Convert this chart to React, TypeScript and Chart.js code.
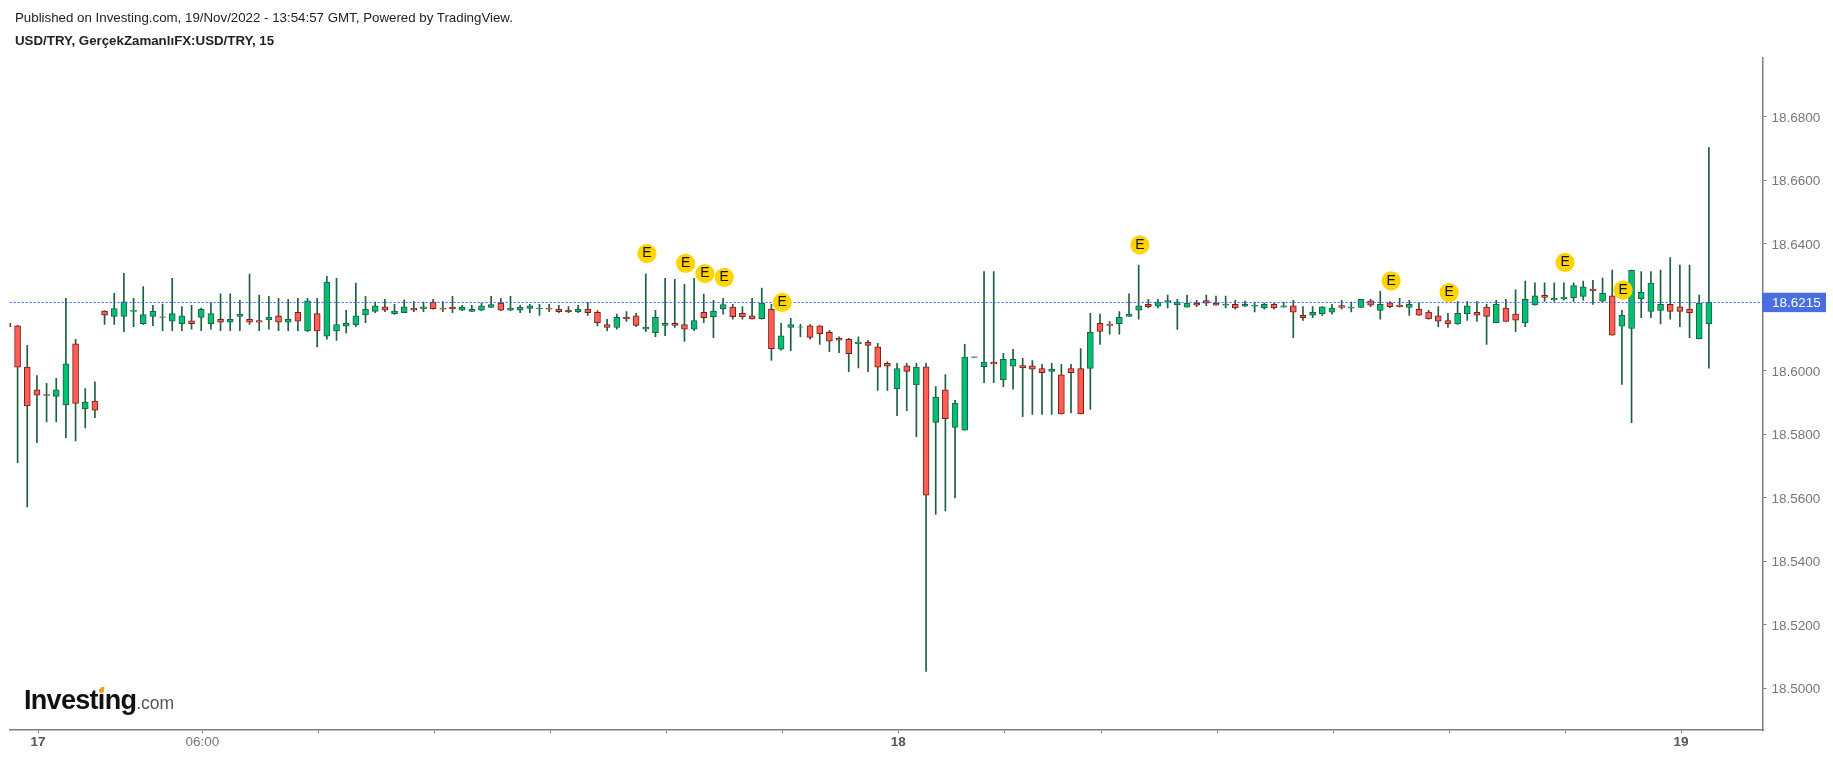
import React, { useEffect, useRef } from "react";
import { Chart, registerables } from "chart.js";

Chart.register(...registerables);

const publishedText = "Published on Investing.com, 19/Nov/2022 - 13:54:57 GMT, Powered by TradingView.";
const symbolText = "USD/TRY, GerçekZamanlıFX:USD/TRY, 15";
const lastPrice = 18.6215;

const opens = [18.6149,18.6141,18.6011,18.5940,18.5925,18.5919,18.5892,18.6085,18.5880,18.5904,18.6188,18.6171,18.6171,18.6187,18.6148,18.6171,18.6168,18.6156,18.6148,18.6157,18.6168,18.6148,18.6162,18.6153,18.6171,18.6162,18.6158,18.6160,18.6173,18.6153,18.6184,18.6125,18.6180,18.6109,18.6125,18.6140,18.6145,18.6176,18.6187,18.6201,18.6180,
18.6183,18.6197,18.6195,18.6216,18.6197,18.6200,18.6191,18.6187,18.6191,18.6199,18.6213,18.6191,18.6191,18.6196,18.6195,18.6197,18.6194,18.6190,18.6186,18.6194,18.6184,18.6145,18.6136,18.6169,18.6173,18.6131,18.6120,18.6143,18.6149,18.6145,18.6131,18.6184,18.6170,18.6195,18.6200,18.6181,18.6173,18.6164,18.6193,18.6068,18.6136,18.6137,
18.6141,18.6141,18.6121,18.6102,18.6099,18.6085,18.6089,18.6075,18.6023,18.5943,18.6015,18.5955,18.6012,18.5837,18.5940,18.5821,18.5813,18.6042,18.6013,18.6027,18.5971,18.6014,18.6016,18.6015,18.6007,18.5998,18.5987,18.6007,18.6007,18.6007,18.6149,18.6146,18.6148,18.6171,18.6191,18.6209,18.6203,18.6216,18.6207,18.6200,18.6213,18.6221,18.6213,18.6206,18.6209,18.6203,18.6203,18.6198,18.6209,18.6200,18.6204,18.6174,18.6175,18.6180,18.6184,18.6205,18.6197,18.6199,18.6220,18.6190,18.6214,18.6206,18.6199,18.6193,18.6185,18.6173,18.6158,18.6147,18.6180,18.6184,18.6200,18.6151,18.6197,18.6178,18.6151,18.6207,18.6237,18.6223,18.6227,18.6230,18.6234,18.6257,18.6219,18.6236,18.6140,18.6133,18.6227,18.6187,18.6190,18.6209,18.6201,18.6194,18.6100,18.6148];
const highs = [18.6149,18.6143,18.6080,18.5985,18.5960,18.5976,18.6228,18.6099,18.5944,18.5965,18.6189,18.6244,18.6307,18.6228,18.6265,18.6206,18.6210,18.6291,18.6202,18.6206,18.6197,18.6215,18.6242,18.6242,18.6222,18.6304,18.6238,18.6234,18.6228,18.6225,18.6228,18.6228,18.6228,18.6297,18.6291,18.6190,18.6276,18.6234,18.6216,18.6225,18.6209,
18.6223,18.6218,18.6216,18.6225,18.6218,18.6234,18.6206,18.6206,18.6213,18.6234,18.6228,18.6234,18.6206,18.6209,18.6209,18.6209,18.6206,18.6202,18.6206,18.6215,18.6189,18.6162,18.6178,18.6186,18.6181,18.6305,18.6190,18.6291,18.6288,18.6272,18.6291,18.6241,18.6222,18.6228,18.6209,18.6202,18.6228,18.6260,18.6209,18.6149,18.6165,18.6146,
18.6145,18.6142,18.6127,18.6107,18.6102,18.6107,18.6096,18.6086,18.6028,18.6023,18.6023,18.6023,18.6023,18.5950,18.5988,18.5907,18.6083,18.6044,18.6312,18.6312,18.6055,18.6067,18.6039,18.6032,18.6020,18.6023,18.6020,18.6020,18.6070,18.6181,18.6178,18.6155,18.6186,18.6242,18.6332,18.6225,18.6225,18.6238,18.6225,18.6238,18.6222,18.6238,18.6235,18.6235,18.6222,18.6219,18.6216,18.6213,18.6213,18.6216,18.6222,18.6202,18.6202,18.6202,18.6209,18.6222,18.6216,18.6225,18.6225,18.6250,18.6218,18.6228,18.6222,18.6214,18.6190,18.6202,18.6181,18.6218,18.6218,18.6218,18.6209,18.6222,18.6225,18.6255,18.6282,18.6277,18.6277,18.6277,18.6277,18.6277,18.6282,18.6285,18.6292,18.6317,18.6190,18.6317,18.6312,18.6312,18.6317,18.6356,18.6333,18.6333,18.6238,18.6703];
const lows = [18.6139,18.5710,18.5571,18.5773,18.5839,18.5839,18.5789,18.5779,18.5820,18.5852,18.6146,18.6146,18.6123,18.6139,18.6146,18.6142,18.6126,18.6126,18.6126,18.6131,18.6126,18.6131,18.6126,18.6126,18.6126,18.6146,18.6126,18.6131,18.6126,18.6126,18.6126,18.6123,18.6075,18.6099,18.6095,18.6119,18.6139,18.6151,18.6183,18.6186,18.6177,
18.6183,18.6186,18.6186,18.6194,18.6186,18.6183,18.6189,18.6186,18.6189,18.6199,18.6189,18.6189,18.6183,18.6183,18.6174,18.6186,18.6183,18.6183,18.6183,18.6174,18.6141,18.6126,18.6131,18.6155,18.6139,18.6123,18.6107,18.6110,18.6136,18.6092,18.6126,18.6151,18.6104,18.6178,18.6162,18.6162,18.6162,18.6162,18.6032,18.6065,18.6063,18.6107,
18.6099,18.6083,18.6060,18.6057,18.5997,18.6009,18.5997,18.5938,18.5938,18.5858,18.5874,18.5792,18.5053,18.5547,18.5558,18.5599,18.5813,18.6042,18.5962,18.5962,18.5950,18.5942,18.5855,18.5862,18.5862,18.5862,18.5864,18.5867,18.5864,18.5878,18.6083,18.6115,18.6115,18.6171,18.6162,18.6198,18.6198,18.6198,18.6130,18.6200,18.6202,18.6205,18.6206,18.6198,18.6194,18.6202,18.6185,18.6194,18.6194,18.6200,18.6104,18.6158,18.6167,18.6174,18.6178,18.6194,18.6185,18.6199,18.6202,18.6162,18.6198,18.6200,18.6174,18.6174,18.6162,18.6139,18.6136,18.6146,18.6158,18.6155,18.6083,18.6151,18.6155,18.6123,18.6139,18.6206,18.6218,18.6218,18.6222,18.6218,18.6222,18.6209,18.6217,18.6112,18.5957,18.5836,18.6167,18.6167,18.6147,18.6162,18.6139,18.6104,18.6100,18.6008];
const closes = [18.6139,18.6011,18.5889,18.5923,18.5922,18.5940,18.6022,18.5897,18.5901,18.5876,18.6175,18.6196,18.6217,18.6190,18.6177,18.6187,18.6170,18.6180,18.6173,18.6148,18.6193,18.6180,18.6153,18.6162,18.6178,18.6153,18.6153,18.6168,18.6153,18.6162,18.6156,18.6220,18.6125,18.6279,18.6145,18.6149,18.6173,18.6193,18.6204,18.6191,18.6188,
18.6201,18.6191,18.6201,18.6195,18.6194,18.6195,18.6200,18.6193,18.6204,18.6208,18.6191,18.6197,18.6200,18.6204,18.6197,18.6194,18.6186,18.6186,18.6194,18.6183,18.6151,18.6136,18.6168,18.6163,18.6143,18.6137,18.6168,18.6149,18.6143,18.6131,18.6158,18.6167,18.6188,18.6208,18.6170,18.6170,18.6163,18.6213,18.6069,18.6110,18.6145,18.6138,
18.6105,18.6117,18.6093,18.6096,18.6054,18.6090,18.6080,18.6011,18.6014,18.6007,18.5998,18.6011,18.5608,18.5917,18.5849,18.5897,18.6043,18.6044,18.6027,18.6021,18.6036,18.6036,18.6009,18.6005,18.5994,18.6004,18.5864,18.5994,18.5864,18.6121,18.6124,18.6143,18.6168,18.6178,18.6204,18.6202,18.6216,18.6221,18.6216,18.6213,18.6206,18.6213,18.6206,18.6209,18.6198,18.6209,18.6206,18.6209,18.6198,18.6204,18.6184,18.6167,18.6184,18.6201,18.6197,18.6199,18.6200,18.6225,18.6206,18.6209,18.6202,18.6202,18.6209,18.6175,18.6163,18.6156,18.6147,18.6181,18.6204,18.6175,18.6171,18.6209,18.6155,18.6159,18.6225,18.6236,18.6231,18.6228,18.6232,18.6268,18.6264,18.6252,18.6244,18.6112,18.6174,18.6316,18.6247,18.6276,18.6209,18.6187,18.6187,18.6183,18.6213,18.6215];

const timeTickIndices = [3,20,32,44,56,68,80,92,103,113,125,137,149,161,173];
const timeTickLabels = ["17","06:00","","","","","","18","","","","","","","19"];
const boldTimeLabels = ["17","18","19"];
const priceTicks = [18.50,18.52,18.54,18.56,18.58,18.60,18.64,18.66,18.68];

const earningsIndices = [66,70,72,74,80,117,143,149,161,167];
const earningsValues = [18.6369,18.6338,18.6306,18.6294,18.6215,18.6396,18.6283,18.6246,18.6341,18.6254];

const indices = opens.map((_, i) => i);
const UP_FILL = "#00c172";
const UP_EDGE = "#1d6044";
const DOWN_FILL = "#ff5f52";
const DOWN_EDGE = "#7a1c18";
const WICK = "#1d5f41";
const AXIS = "#7f7f7f";
const SANS = "'Liberation Sans', Arial, sans-serif";
const EVENT_BIAS = 0.12;

const earningsLabels = {
  id: "earningsLabels",
  afterDatasetsDraw(chart: any) {
    const { ctx } = chart;
    const meta = chart.getDatasetMeta(3);
    ctx.save();
    ctx.fillStyle = "#111111";
    ctx.font = `14px ${SANS}`;
    ctx.textAlign = "center";
    ctx.textBaseline = "middle";
    meta.data.forEach((pt: any) => ctx.fillText("E", pt.x, pt.y));
    ctx.restore();
  },
};

const priceBadge = {
  id: "priceBadge",
  afterDraw(chart: any) {
    const { ctx, scales, chartArea } = chart;
    const y = scales.y.getPixelForValue(lastPrice);
    ctx.save();
    ctx.fillStyle = "#4a6ee0";
    ctx.fillRect(chartArea.right - 1, y - 9.7, 64, 19.4);
    ctx.fillStyle = "#ffffff";
    ctx.font = `13.5px ${SANS}`;
    ctx.textAlign = "left";
    ctx.textBaseline = "middle";
    ctx.fillText(lastPrice.toFixed(4), chartArea.right + 9, y + 1);
    ctx.restore();
  },
};

export default function App() {
  const ref = useRef<HTMLCanvasElement | null>(null);
  useEffect(() => {
    const xMin = 0.173;
    const xMax = 181.6;
    const chart = new Chart(ref.current as HTMLCanvasElement, {
      type: "bar",
      data: {
        datasets: [
          {
            type: "line",
            data: [{ x: xMin, y: lastPrice }, { x: xMax, y: lastPrice }],
            borderColor: "#2f5df5",
            borderWidth: 1,
            borderDash: [2, 2],
            pointRadius: 0,
            order: 1,
            clip: 0,
          },
          {
            type: "bar",
            data: indices.map((i) => ({ x: i, y: [opens[i], closes[i]] })),
            backgroundColor: indices.map((i) => (closes[i] >= opens[i] ? UP_FILL : DOWN_FILL)),
            borderColor: indices.map((i) => (closes[i] >= opens[i] ? UP_EDGE : DOWN_EDGE)),
            borderWidth: 1,
            borderSkipped: false,
            barThickness: 6,
            grouped: false,
            order: 2,
            clip: 0,
          },
          {
            type: "bar",
            data: indices.map((i) => ({ x: i, y: [lows[i], highs[i]] })),
            backgroundColor: WICK,
            borderWidth: 0,
            barThickness: 1,
            grouped: false,
            order: 3,
            clip: 0,
          },
          {
            type: "scatter",
            data: earningsIndices.map((x, k) => ({ x: x + EVENT_BIAS, y: earningsValues[k] })),
            backgroundColor: "#ffd400",
            borderWidth: 0,
            pointRadius: 9.6,
            order: 0,
            clip: false,
          },
        ],
      } as any,
      options: {
        animation: false,
        responsive: false,
        events: [],
        layout: { padding: { top: 58, left: 8, right: 0, bottom: 0 } },
        plugins: { legend: { display: false }, tooltip: { enabled: false }, title: { display: false } },
        scales: {
          x: {
            type: "linear",
            min: xMin,
            max: xMax,
            offset: false,
            afterFit(s: any) { s.height = 28; },
            afterBuildTicks(s: any) { s.ticks = timeTickIndices.map((v) => ({ value: v + EVENT_BIAS })); },
            border: { color: AXIS, width: 1.5 },
            grid: { display: true, drawOnChartArea: false, offset: false, tickLength: 3, tickColor: AXIS },
            ticks: {
              autoSkip: false,
              maxRotation: 0,
              padding: 1,
              font: (c: any) => ({
                size: 13.5,
                family: SANS,
                weight: boldTimeLabels.includes(timeTickLabels[c.index]) ? "bold" : "normal",
              }),
              color: (c: any) => (boldTimeLabels.includes(timeTickLabels[c.index]) ? "#555555" : "#777777"),
              callback: (_v: any, i: number) => timeTickLabels[i],
            },
          },
          y: {
            type: "linear",
            position: "right",
            min: 18.48683,
            max: 18.69849,
            afterFit(s: any) { s.width = 70; },
            afterBuildTicks(s: any) { s.ticks = priceTicks.map((value) => ({ value })); },
            border: { color: AXIS, width: 1.5 },
            grid: { display: true, drawOnChartArea: false, tickLength: 3.5, tickColor: AXIS },
            ticks: {
              padding: 5,
              labelOffset: 1.2,
              font: { size: 13.5, family: SANS },
              color: "#777777",
              callback: (v: any) => Number(v).toFixed(4),
            },
          },
        },
      },
      plugins: [earningsLabels, priceBadge],
    } as any);
    return () => chart.destroy();
  }, []);

  return (
    <div style={{ position: "fixed", left: 0, top: 0, width: 1833, height: 758, background: "#fff", overflow: "hidden", fontFamily: SANS }}>
      <canvas ref={ref} width={1833} height={758} style={{ display: "block", position: "absolute", left: 0, top: 0 }} />
      <div style={{ position: "absolute", left: 15, top: 10, fontSize: 13.3, color: "#222", whiteSpace: "nowrap" }}>{publishedText}</div>
      <div style={{ position: "absolute", left: 15, top: 33, fontSize: 13.3, fontWeight: 700, color: "#222", whiteSpace: "nowrap" }}>{symbolText}</div>
      <div style={{ position: "absolute", left: 24, top: 685, whiteSpace: "nowrap", color: "#111" }}>
        <span style={{ fontSize: 27, fontWeight: 700, letterSpacing: -0.7 }}>Investing</span>
        <span style={{ fontSize: 17.5, color: "#555" }}>.com</span>
      </div>
      <div style={{ position: "absolute", left: 100, top: 687, width: 3.5, height: 6, background: "#f7a01e", transform: "skewX(-15deg)", borderRadius: 1 }} />
    </div>
  );
}
